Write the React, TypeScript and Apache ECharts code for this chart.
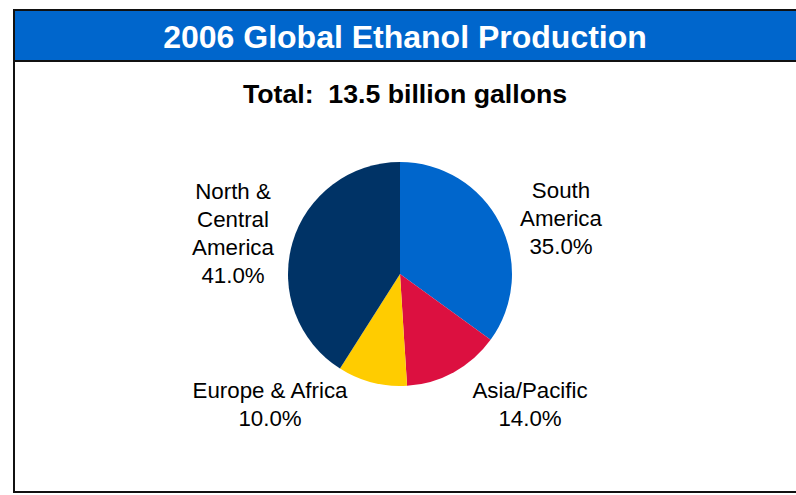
import React, { useEffect, useRef } from "react";
import * as echarts from "echarts";

const regions = ["South\nAmerica", "Asia/Pacific", "Europe & Africa", "North &\nCentral\nAmerica"];
const shares = [35.0, 14.0, 10.0, 41.0];
const sliceColors = ["#0066CC", "#DC1040", "#FFCC00", "#003366"];
const headerText = "2006 Global Ethanol Production";
const subtitleText = "Total:  13.5 billion gallons";

// label anchor positions (pixels) for each slice label
const labelAnchors: [number, number][] = [
  [561, 218],
  [530, 404],
  [270, 404],
  [233, 233],
];

export default function App() {
  const ref = useRef<HTMLDivElement>(null);
  useEffect(() => {
    document.body.style.margin = "0";
    if (!ref.current) return;
    const chart = echarts.init(ref.current, null, { renderer: "svg" });
    const font = "'Liberation Sans', Arial, sans-serif";
    chart.setOption({
      animation: false,
      backgroundColor: "#ffffff",
      graphic: [
        {
          type: "rect",
          shape: { x: 14, y: 10, width: 800, height: 482 },
          style: { fill: "#ffffff", stroke: "#111111", lineWidth: 2 },
          z: -10,
        },
        {
          type: "rect",
          shape: { x: 14, y: 10, width: 800, height: 51 },
          style: { fill: "#0066CC", stroke: "#111111", lineWidth: 2 },
          z: -9,
        },
        {
          type: "text",
          x: 405,
          y: 37,
          style: {
            text: headerText,
            fill: "#ffffff",
            font: `bold 32px ${font}`,
            align: "center",
            verticalAlign: "middle",
          },
        },
        {
          type: "text",
          x: 405,
          y: 94,
          style: {
            text: subtitleText,
            fill: "#000000",
            font: `bold 26.7px ${font}`,
            align: "center",
            verticalAlign: "middle",
          },
        },
      ],
      series: [
        {
          type: "pie",
          center: [400, 274],
          radius: 112,
          startAngle: 90,
          clockwise: true,
          silent: true,
          color: sliceColors,
          itemStyle: { borderWidth: 0 },
          label: {
            show: true,
            position: "outside",
            fontFamily: font,
            fontSize: 22.3,
            lineHeight: 28,
            color: "#000000",
            align: "center",
            formatter: (p: any) => `${p.name}\n${Number(p.value).toFixed(1)}%`,
          },
          labelLine: { show: false },
          labelLayout: (params: any) => {
            const a = labelAnchors[params.dataIndex];
            return { x: a[0], y: a[1], align: "center", verticalAlign: "middle" };
          },
          data: regions.map((name, i) => ({ name, value: shares[i] })),
        },
      ],
    });
    return () => chart.dispose();
  }, []);
  return <div ref={ref} style={{ width: 796, height: 495 }} />;
}
